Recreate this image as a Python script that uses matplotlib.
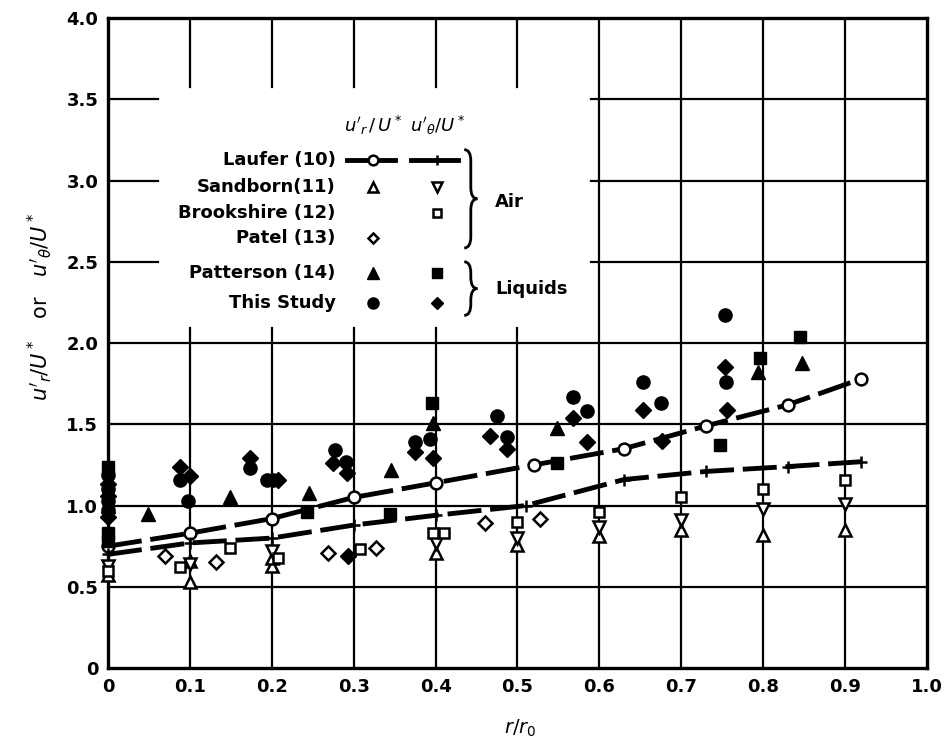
import numpy as np
import matplotlib
matplotlib.use("Agg")
from matplotlib import pyplot as plt
from matplotlib.path import Path
from matplotlib.patches import PathPatch

plt.rcParams['font.family'] = ['DejaVu Sans']
plt.rcParams['mathtext.fontset'] = 'dejavusans'

# Laufer (10), lines with markers
laufer_r_x = [0.0, 0.1, 0.2, 0.3, 0.4, 0.52, 0.63, 0.73, 0.83, 0.92]
laufer_r_y = [0.75, 0.83, 0.92, 1.05, 1.14, 1.25, 1.35, 1.49, 1.62, 1.78]
laufer_t_x = [0.0, 0.1, 0.2, 0.3, 0.4, 0.51, 0.63, 0.73, 0.83, 0.92]
laufer_t_y = [0.70, 0.77, 0.80, 0.88, 0.94, 1.00, 1.16, 1.21, 1.24, 1.27]

# Sandborn (11)
sand_r_x = [0.0, 0.1, 0.1, 0.2, 0.2, 0.4, 0.5, 0.6, 0.7, 0.8, 0.9]
sand_r_y = [0.57, 0.53, 0.66, 0.63, 0.68, 0.71, 0.76, 0.81, 0.85, 0.82, 0.85]
sand_t_x = [0.0, 0.1, 0.2, 0.4, 0.5, 0.6, 0.7, 0.8, 0.9]
sand_t_y = [0.63, 0.64, 0.72, 0.77, 0.80, 0.87, 0.91, 0.98, 1.01]

# Brookshire (12)
brook_t_x = [0.0, 0.088, 0.149, 0.207, 0.308, 0.397, 0.41, 0.50, 0.60, 0.70, 0.80, 0.90]
brook_t_y = [0.60, 0.62, 0.74, 0.68, 0.73, 0.83, 0.83, 0.90, 0.96, 1.05, 1.10, 1.16]

# Patel (13)
patel_r_x = [0.07, 0.132, 0.269, 0.327, 0.46, 0.528]
patel_r_y = [0.69, 0.65, 0.71, 0.74, 0.89, 0.92]

# Patterson (14)
patt_r_x = [0.0, 0.049, 0.149, 0.245, 0.345, 0.397, 0.548, 0.794, 0.847]
patt_r_y = [1.00, 0.95, 1.05, 1.08, 1.22, 1.51, 1.48, 1.82, 1.88]
patt_t_x = [0.0, 0.0, 0.0, 0.243, 0.344, 0.396, 0.548, 0.747, 0.796, 0.845]
patt_t_y = [1.24, 0.83, 0.78, 0.96, 0.95, 1.63, 1.26, 1.37, 1.91, 2.04]

# This study
this_r_x = [0.0, 0.0, 0.0, 0.0, 0.088, 0.098, 0.173, 0.194, 0.201, 0.277, 0.29,
            0.375, 0.393, 0.475, 0.487, 0.568, 0.585, 0.653, 0.675, 0.753, 0.755]
this_r_y = [1.19, 1.10, 1.03, 0.97, 1.16, 1.03, 1.23, 1.16, 1.16, 1.34, 1.27,
            1.39, 1.41, 1.55, 1.42, 1.67, 1.58, 1.76, 1.63, 2.17, 1.76]
this_t_x = [0.0, 0.0, 0.0, 0.088, 0.10, 0.173, 0.207, 0.275, 0.292, 0.293, 0.375,
            0.397, 0.466, 0.487, 0.568, 0.585, 0.653, 0.676, 0.753, 0.756]
this_t_y = [1.13, 1.06, 0.93, 1.24, 1.18, 1.29, 1.16, 1.26, 1.20, 0.69, 1.33,
            1.29, 1.43, 1.35, 1.54, 1.39, 1.59, 1.40, 1.85, 1.59]

xticks = [0.0, 0.1, 0.2, 0.3, 0.4, 0.5, 0.6, 0.7, 0.8, 0.9, 1.0]
xticklabels = ['0', '0.1', '0.2', '0.3', '0.4', '0.5', '0.6', '0.7', '0.8', '0.9', '1.0']
yticks = [0.0, 0.5, 1.0, 1.5, 2.0, 2.5, 3.0, 3.5, 4.0]
yticklabels = ['0', '0.5', '1.0', '1.5', '2.0', '2.5', '3.0', '3.5', '4.0']

fig = plt.figure(figsize=(9.49, 7.49), dpi=100)
ax = fig.add_axes([0.1138, 0.108, 0.863, 0.868])
ax.set_xlim(0, 1.0)
ax.set_ylim(0, 4.0)

# grid, with the legend area left blank
glw = 1.6
for xv in xticks[1:-1]:
    if xv <= 0.55:
        ax.axvline(xv, ymin=0, ymax=2.09 / 4, color='k', lw=glw, zorder=1)
        ax.axvline(xv, ymin=3.575 / 4, ymax=1, color='k', lw=glw, zorder=1)
    else:
        ax.axvline(xv, color='k', lw=glw, zorder=1)
for yv in yticks[1:-1]:
    if yv >= 2.4:
        ax.axhline(yv, xmin=0, xmax=0.061, color='k', lw=glw, zorder=1)
        ax.axhline(yv, xmin=0.59, xmax=1, color='k', lw=glw, zorder=1)
    else:
        ax.axhline(yv, color='k', lw=glw, zorder=1)

for s in ax.spines.values():
    s.set_linewidth(2.4)

ms = 8.5
mew = 1.8
ax.plot(laufer_r_x, laufer_r_y, color='k', lw=3.5, dashes=(7, 1.8),
        marker='o', ms=ms, mfc='white', mec='k', mew=mew, zorder=4, clip_on=False)
ax.plot(laufer_t_x, laufer_t_y, color='k', lw=3.5, dashes=(7, 1.8),
        marker='+', ms=ms, mew=mew, zorder=4, clip_on=False)
ax.plot(sand_r_x, sand_r_y, ls='none', marker='^', ms=ms, mfc='white', mec='k', mew=mew, zorder=5, clip_on=False)
ax.plot(sand_t_x, sand_t_y, ls='none', marker='v', ms=ms, mfc='white', mec='k', mew=mew, zorder=5, clip_on=False)
ax.plot(brook_t_x, brook_t_y, ls='none', marker='s', ms=ms - 1, mfc='white', mec='k', mew=mew, zorder=5, clip_on=False)
ax.plot(patel_r_x, patel_r_y, ls='none', marker='D', ms=ms - 1.5, mfc='white', mec='k', mew=mew, zorder=5, clip_on=False)
ax.plot(patt_r_x, patt_r_y, ls='none', marker='^', ms=ms + 1, color='k', zorder=5, clip_on=False)
ax.plot(patt_t_x, patt_t_y, ls='none', marker='s', ms=ms, color='k', zorder=5, clip_on=False)
ax.plot(this_r_x, this_r_y, ls='none', marker='o', ms=ms + 1, color='k', zorder=5, clip_on=False)
ax.plot(this_t_x, this_t_y, ls='none', marker='D', ms=ms - 0.5, color='k', zorder=5, clip_on=False)

ax.set_xticks(xticks)
ax.set_xticklabels(xticklabels)
ax.set_yticks(yticks)
ax.set_yticklabels(yticklabels)
ax.tick_params(length=0, labelsize=13, pad=7)
for lab in ax.get_xticklabels() + ax.get_yticklabels():
    lab.set_fontweight('bold')

# legend drawn by hand
fs = 13
ax.text(0.3235, 3.34, r"$u'_r\,/\,U^*$", ha='center', va='center', fontsize=fs)
ax.text(0.402, 3.34, r"$u'_\theta/U^*$", ha='center', va='center', fontsize=fs)
names = ['Laufer (10)', 'Sandborn(11)', 'Brookshire (12)', 'Patel (13)', 'Patterson (14)', 'This Study']
rows = [3.126, 2.96, 2.80, 2.646, 2.43, 2.246]
for nm, ry in zip(names, rows):
    ax.text(0.278, ry, nm, ha='right', va='center', fontsize=fs, fontweight='bold')
ax.plot([0.292, 0.3235, 0.35], [rows[0]] * 3, color='k', lw=3.5, marker='o', markevery=[1],
        ms=7, mfc='white', mec='k', mew=mew)
ax.plot([0.37, 0.402, 0.427], [rows[0]] * 3, color='k', lw=3.5, marker='+', markevery=[1],
        ms=7, mew=mew)
ax.plot(0.3235, rows[1], ls='none', marker='^', ms=7, mfc='white', mec='k', mew=mew)
ax.plot(0.402, rows[1], ls='none', marker='v', ms=7, mfc='white', mec='k', mew=mew)
ax.plot(0.402, rows[2], ls='none', marker='s', ms=6, mfc='white', mec='k', mew=mew)
ax.plot(0.3235, rows[3], ls='none', marker='D', ms=5.5, mfc='white', mec='k', mew=mew)
ax.plot(0.3235, rows[4], ls='none', marker='^', ms=8, color='k')
ax.plot(0.402, rows[4], ls='none', marker='s', ms=7, color='k')
ax.plot(0.3235, rows[5], ls='none', marker='o', ms=8, color='k')
ax.plot(0.402, rows[5], ls='none', marker='D', ms=6.5, color='k')


def brace(x, y0, y1, w=0.008, h=0.07):
    ym = (y0 + y1) / 2
    verts = [(x - w, y1), (x, y1), (x, y1 - h), (x, ym + h), (x, ym), (x + w, ym),
             (x, ym), (x, ym - h), (x, y0 + h), (x, y0), (x - w, y0)]
    codes = [Path.MOVETO, Path.CURVE3, Path.CURVE3, Path.LINETO, Path.CURVE3, Path.CURVE3,
             Path.CURVE3, Path.CURVE3, Path.LINETO, Path.CURVE3, Path.CURVE3]
    ax.add_patch(PathPatch(Path(verts, codes), fc='none', ec='k', lw=2))


brace(0.443, 2.585, 3.19)
brace(0.443, 2.17, 2.50)
ax.text(0.473, 2.87, 'Air', ha='left', va='center', fontsize=fs, fontweight='bold')
ax.text(0.473, 2.33, 'Liquids', ha='left', va='center', fontsize=fs, fontweight='bold')

fig.text(0.548, 0.028, r'$r/r_0$', ha='center', va='center', fontsize=14)
fig.text(0.042, 0.59, r"$u'_r/U^*$   or   $u'_\theta/U^*$", ha='center', va='center',
         rotation=90, fontsize=15)

fig.savefig('out.png', dpi=100)
